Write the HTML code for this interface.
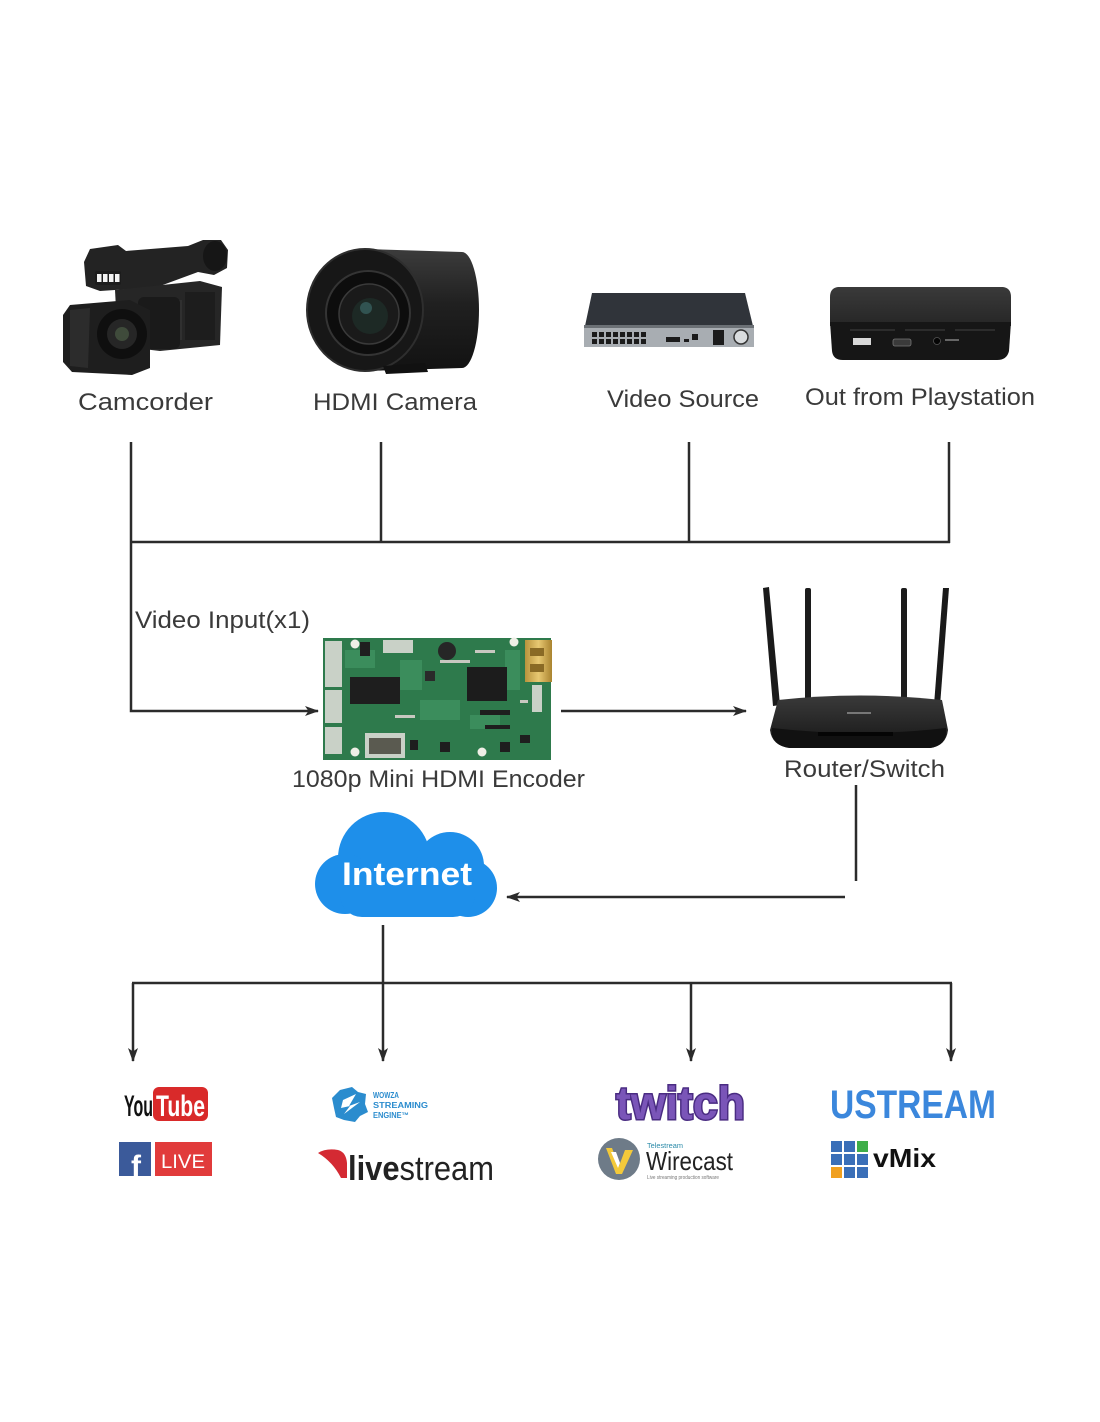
<!DOCTYPE html>
<html><head><meta charset="utf-8">
<style>
html,body{margin:0;padding:0;background:#fff;}
body{width:1100px;height:1422px;overflow:hidden;}
svg{display:block;}
</style></head>
<body>
<svg width="1100" height="1422" viewBox="0 0 1100 1422" xmlns="http://www.w3.org/2000/svg">
<defs>
  <linearGradient id="cyl" x1="0" y1="0" x2="0" y2="1">
    <stop offset="0" stop-color="#3c3c3c"/><stop offset="0.45" stop-color="#202020"/><stop offset="1" stop-color="#121212"/>
  </linearGradient>
  <linearGradient id="psTop" x1="0" y1="0" x2="0" y2="1">
    <stop offset="0" stop-color="#3a3a3a"/><stop offset="1" stop-color="#262626"/>
  </linearGradient>
  <linearGradient id="rtTop" x1="0" y1="0" x2="0" y2="1">
    <stop offset="0" stop-color="#3a3a3a"/><stop offset="1" stop-color="#161616"/>
  </linearGradient>
  <linearGradient id="gold" x1="0" y1="0" x2="1" y2="0">
    <stop offset="0" stop-color="#b8933c"/><stop offset="0.5" stop-color="#e8c872"/><stop offset="1" stop-color="#a9832f"/>
  </linearGradient>
  <marker id="ah" viewBox="0 0 14 10" refX="13" refY="5" markerWidth="14" markerHeight="10" markerUnits="userSpaceOnUse" orient="auto">
    <path d="M0 0 L14 5 L0 10 L3.5 5 Z" fill="#2b2b2b"/>
  </marker>
</defs>

<rect width="1100" height="1422" fill="#fff"/>

<!-- ================= CAMCORDER ================= -->
<g>
  <path d="M84 262 L90 249 L118 245 L126 251 L188 246 L203 240 L221 240 L228 250 L227 268 L214 275 L198 272 L160 286 L130 289 L100 291 L86 286 Z" fill="#232323"/>
  <ellipse cx="215" cy="256" rx="12" ry="15" fill="#161616"/>
  <rect x="95" y="271" width="26" height="14" rx="2" fill="#1c1c1c"/>
  <rect x="97" y="274" width="4.5" height="8" fill="#f2f2f2"/>
  <rect x="103" y="274" width="4.5" height="8" fill="#f2f2f2"/>
  <rect x="109" y="274" width="4.5" height="8" fill="#f2f2f2"/>
  <rect x="115" y="274" width="4.5" height="8" fill="#f2f2f2"/>
  <path d="M115 290 L200 281 L222 287 L220 345 L160 351 L118 346 Z" fill="#262626"/>
  <rect x="185" y="292" width="30" height="48" fill="#1d1d1d"/>
  <rect x="162" y="300" width="20" height="40" fill="#303030"/>
  <rect x="138" y="297" width="42" height="52" rx="6" fill="#1a1a1a"/>
  <path d="M70 305 L130 300 L150 310 L150 368 L132 375 L72 372 L63 362 L63 315 Z" fill="#1e1e1e"/>
  <path d="M70 310 L90 308 L88 368 L70 366 Z" fill="#2c2c2c"/>
  <circle cx="122" cy="334" r="25" fill="#0f0f0f"/>
  <circle cx="122" cy="334" r="15" fill="#262626"/>
  <circle cx="122" cy="334" r="7" fill="#3f4b3b"/>
</g>

<!-- ================= HDMI CAMERA ================= -->
<g>
  <path d="M365 249 L462 252 A17 58 0 0 1 462 368 L365 371 Z" fill="url(#cyl)"/>
  <ellipse cx="365" cy="310" rx="58" ry="61" fill="#171717" stroke="#2e2e2e" stroke-width="2"/>
  <circle cx="368" cy="313" r="42" fill="#0d0d0d" stroke="#343434" stroke-width="2"/>
  <circle cx="369" cy="314" r="30" fill="#1a1a1a" stroke="#3a3a3a" stroke-width="1.5"/>
  <circle cx="370" cy="316" r="18" fill="#1d2925"/>
  <circle cx="366" cy="308" r="6" fill="#3f7070" opacity="0.6"/>
  <path d="M383 366 L425 363 L428 372 L386 374 Z" fill="#111"/>
</g>

<!-- ================= NVR (Video Source) ================= -->
<g>
  <path d="M592 293 L745 293 L753 326 L585 326 Z" fill="#30343a"/>
  <rect x="584" y="325" width="170" height="22" fill="#a8adb2"/>
  <rect x="584" y="325" width="170" height="3" fill="#6b7075"/>
  <g fill="#1b1b1b">
    <rect x="592" y="332" width="5" height="5"/><rect x="599" y="332" width="5" height="5"/><rect x="606" y="332" width="5" height="5"/><rect x="613" y="332" width="5" height="5"/>
    <rect x="620" y="332" width="5" height="5"/><rect x="627" y="332" width="5" height="5"/><rect x="634" y="332" width="5" height="5"/><rect x="641" y="332" width="5" height="5"/>
    <rect x="592" y="339" width="5" height="5"/><rect x="599" y="339" width="5" height="5"/><rect x="606" y="339" width="5" height="5"/><rect x="613" y="339" width="5" height="5"/>
    <rect x="620" y="339" width="5" height="5"/><rect x="627" y="339" width="5" height="5"/><rect x="634" y="339" width="5" height="5"/><rect x="641" y="339" width="5" height="5"/>
    <rect x="666" y="337" width="14" height="5"/><rect x="684" y="339" width="5" height="3"/><rect x="692" y="334" width="6" height="6"/>
    <rect x="713" y="330" width="11" height="15"/>
  </g>
  <circle cx="741" cy="337" r="7" fill="#d9dcde" stroke="#333" stroke-width="1.5"/>
</g>

<!-- ================= PLAYSTATION BOX ================= -->
<g>
  <path d="M838 287 L1003 287 Q1011 288 1011 297 L1011 326 L830 326 L830 297 Q830 288 838 287 Z" fill="url(#psTop)"/>
  <path d="M830 322 L1011 322 L1009 351 Q1007 360 997 360 L843 360 Q833 360 832 351 Z" fill="#161616"/>
  <rect x="850" y="329" width="45" height="2" fill="#2c2c2c"/>
  <rect x="905" y="329" width="40" height="2" fill="#2c2c2c"/>
  <rect x="955" y="329" width="40" height="2" fill="#2c2c2c"/>
  <rect x="853" y="338" width="18" height="7" fill="#d8d8d8"/>
  <rect x="893" y="339" width="18" height="7" rx="2" fill="#3a3a3a" stroke="#777" stroke-width="0.8"/>
  <circle cx="937" cy="341" r="3.5" fill="#050505" stroke="#555" stroke-width="0.8"/>
  <rect x="945" y="339" width="14" height="2" fill="#666"/>
</g>

<!-- ================= TOP LABELS ================= -->
<g font-family="'Liberation Sans', sans-serif" font-size="24" fill="#3a3a3a">
  <text x="78" y="410" textLength="135" lengthAdjust="spacingAndGlyphs">Camcorder</text>
  <text x="313" y="410" textLength="164" lengthAdjust="spacingAndGlyphs">HDMI Camera</text>
  <text x="607" y="407" textLength="152" lengthAdjust="spacingAndGlyphs">Video Source</text>
  <text x="805" y="405" textLength="230" lengthAdjust="spacingAndGlyphs">Out from Playstation</text>
  <text x="135" y="628" textLength="175" lengthAdjust="spacingAndGlyphs">Video Input(x1)</text>
  <text x="292" y="787" textLength="293" lengthAdjust="spacingAndGlyphs">1080p Mini HDMI Encoder</text>
  <text x="784" y="777" textLength="161" lengthAdjust="spacingAndGlyphs">Router/Switch</text>
</g>

<!-- ================= CONNECTORS ================= -->
<g stroke="#2b2b2b" stroke-width="2.5" fill="none">
  <line x1="131" y1="442" x2="131" y2="542"/>
  <line x1="381" y1="442" x2="381" y2="542"/>
  <line x1="689" y1="442" x2="689" y2="542"/>
  <line x1="949" y1="442" x2="949" y2="543"/>
  <line x1="130" y1="542" x2="950" y2="542"/>
  <path d="M131 542 V711 H318" marker-end="url(#ah)"/>
  <line x1="561" y1="711" x2="746" y2="711" marker-end="url(#ah)"/>
  <line x1="856" y1="785" x2="856" y2="881"/>
  <line x1="845" y1="897" x2="507" y2="897" marker-end="url(#ah)"/>
  <line x1="383" y1="925" x2="383" y2="1061" marker-end="url(#ah)"/>
  <line x1="132" y1="983" x2="952" y2="983"/>
  <line x1="133" y1="983" x2="133" y2="1061" marker-end="url(#ah)"/>
  <line x1="691" y1="983" x2="691" y2="1061" marker-end="url(#ah)"/>
  <line x1="951" y1="983" x2="951" y2="1061" marker-end="url(#ah)"/>
</g>

<!-- ================= ENCODER BOARD ================= -->
<g>
  <rect x="323" y="638" width="228" height="122" fill="#2e7a4c"/>
  <g fill="#3f9260" opacity="0.8">
    <rect x="345" y="650" width="30" height="18"/><rect x="420" y="700" width="40" height="20"/>
    <rect x="470" y="715" width="30" height="14"/><rect x="400" y="660" width="22" height="30"/>
    <rect x="505" y="650" width="15" height="40"/>
  </g>
  <g fill="#c9d1c7">
    <rect x="325" y="641" width="17" height="46"/>
    <rect x="325" y="690" width="17" height="33"/>
    <rect x="325" y="727" width="17" height="27"/>
    <rect x="383" y="640" width="30" height="13"/>
    <rect x="365" y="733" width="40" height="25"/>
    <rect x="532" y="685" width="10" height="27"/>
  </g>
  <rect x="369" y="738" width="32" height="16" fill="#5a5a50"/>
  <rect x="350" y="677" width="50" height="27" fill="#1e1e1e"/>
  <rect x="467" y="667" width="40" height="34" fill="#1c1c1c"/>
  <circle cx="447" cy="651" r="9" fill="#262626"/>
  <rect x="425" y="671" width="10" height="10" fill="#2a2a2a"/>
  <rect x="360" y="642" width="10" height="14" fill="#1f1f1f"/>
  <rect x="525" y="640" width="27" height="42" fill="url(#gold)"/>
  <rect x="530" y="648" width="14" height="8" fill="#8a6a25"/>
  <rect x="530" y="664" width="14" height="8" fill="#8a6a25"/>
  <g fill="#efefe6">
    <circle cx="355" cy="644" r="4.5"/><circle cx="514" cy="642" r="4.5"/>
    <circle cx="355" cy="752" r="4.5"/><circle cx="482" cy="752" r="4.5"/>
  </g>
  <g fill="#1e1e1e">
    <rect x="410" y="740" width="8" height="10"/><rect x="440" y="742" width="10" height="10"/>
    <rect x="500" y="742" width="10" height="10"/><rect x="520" y="735" width="10" height="8"/>
    <rect x="480" y="710" width="30" height="5"/><rect x="485" y="725" width="25" height="4"/>
  </g>
  <g fill="#c8c8c0">
    <rect x="440" y="660" width="30" height="3"/><rect x="475" y="650" width="20" height="3"/>
    <rect x="395" y="715" width="20" height="3"/><rect x="520" y="700" width="8" height="3"/>
  </g>
</g>

<!-- ================= ROUTER ================= -->
<g>
  <path d="M763 588 L769 587 L780 705 L773 706 Z" fill="#1a1a1a"/>
  <rect x="805" y="588" width="6" height="114" rx="2" fill="#1c1c1c"/>
  <rect x="901" y="588" width="6" height="114" rx="2" fill="#1c1c1c"/>
  <path d="M943 588 L949 588 L940 706 L934 705 Z" fill="#1a1a1a"/>
  <path d="M778 700 Q860 691 942 700 L948 730 Q946 746 930 748 L790 748 Q772 746 770 730 Z" fill="url(#rtTop)"/>
  <path d="M772 728 Q860 738 946 728 L946 734 Q944 746 930 748 L790 748 Q774 746 772 734 Z" fill="#111"/>
  <rect x="818" y="732" width="75" height="4" fill="#050505"/>
  <rect x="847" y="712" width="24" height="2" fill="#777"/>
</g>

<!-- ================= INTERNET CLOUD ================= -->
<g fill="#1e8fea">
  <circle cx="384" cy="858" r="46"/>
  <circle cx="450" cy="866" r="34"/>
  <circle cx="345" cy="884" r="30"/>
  <circle cx="468" cy="888" r="29"/>
  <rect x="340" y="865" width="135" height="52" rx="22"/>
</g>
<text x="342" y="885" font-family="'Liberation Sans', sans-serif" font-weight="bold" font-size="32" fill="#fff" textLength="130" lengthAdjust="spacingAndGlyphs">Internet</text>

<!-- ================= LOGOS ================= -->
<!-- YouTube -->
<text x="124" y="1116" font-family="'Liberation Sans', sans-serif" font-weight="bold" font-size="30" fill="#111" textLength="29" lengthAdjust="spacingAndGlyphs">You</text>
<rect x="153" y="1087" width="55" height="34" rx="6" fill="#d92a2a"/>
<text x="156" y="1116" font-family="'Liberation Sans', sans-serif" font-weight="bold" font-size="30" fill="#fff" textLength="49" lengthAdjust="spacingAndGlyphs">Tube</text>
<!-- FB live -->
<rect x="119" y="1142" width="32" height="34" fill="#3b5a9a"/>
<text x="131" y="1176" font-family="'Liberation Sans', sans-serif" font-weight="bold" font-size="30" fill="#fff">f</text>
<rect x="155" y="1142" width="57" height="34" fill="#e13b3b"/>
<text x="161" y="1168" font-family="'Liberation Sans', sans-serif" font-size="19" fill="#fff" textLength="44" lengthAdjust="spacingAndGlyphs">LIVE</text>

<!-- Wowza -->
<path d="M340 1090 L352 1087 L358 1092 L366 1094 L365 1104 L368 1112 L360 1116 L355 1122 L344 1120 L336 1117 L334 1108 L332 1098 Z" fill="#2b8cce"/>
<path d="M343 1100 L356 1094 L349 1106 L360 1102 L344 1114 L350 1106 L341 1108 Z" fill="#fff"/>
<g font-family="'Liberation Sans', sans-serif" font-weight="bold" font-size="8" fill="#2b8cce">
  <text x="373" y="1098" textLength="26" lengthAdjust="spacingAndGlyphs">WOWZA</text>
  <text x="373" y="1108" textLength="55" lengthAdjust="spacingAndGlyphs">STREAMING</text>
  <text x="373" y="1118" textLength="36" lengthAdjust="spacingAndGlyphs">ENGINE™</text>
</g>
<!-- livestream -->
<path d="M318 1153 Q326 1148 338 1150 Q346 1152 347 1163 L347 1178 L341 1178 Q333 1162 318 1153 Z" fill="#d42a33"/>
<text x="348" y="1180" font-family="'Liberation Sans', sans-serif" font-size="34" fill="#222" textLength="146" lengthAdjust="spacingAndGlyphs"><tspan font-weight="bold">live</tspan>stream</text>

<!-- twitch -->
<text x="616" y="1119" font-family="'Liberation Sans', sans-serif" font-weight="bold" font-size="46" fill="#7a55b8" stroke="#4a2c82" stroke-width="3" paint-order="stroke" textLength="129" lengthAdjust="spacingAndGlyphs">twitch</text>
<!-- Wirecast -->
<circle cx="619" cy="1159" r="21" fill="#6e7b88"/>
<path d="M606 1148 L612 1148 L619 1166 L625 1150 L633 1150 L622 1174 L616 1174 Z" fill="#f3c93a"/>
<path d="M611 1152 L616 1152 L620 1163 L618 1168 Z" fill="#fff"/>
<text x="647" y="1148" font-family="'Liberation Sans', sans-serif" font-size="7" fill="#2a8aa8" textLength="36" lengthAdjust="spacingAndGlyphs">Telestream</text>
<text x="646" y="1170" font-family="'Liberation Sans', sans-serif" font-size="26" fill="#222" textLength="87" lengthAdjust="spacingAndGlyphs">Wirecast</text>
<text x="647" y="1179" font-family="'Liberation Sans', sans-serif" font-size="5" fill="#777" textLength="72" lengthAdjust="spacingAndGlyphs">Live streaming production software</text>

<!-- USTREAM -->
<text x="830" y="1118" font-family="'Liberation Sans', sans-serif" font-weight="bold" font-size="40" fill="#3b87dc" textLength="166" lengthAdjust="spacingAndGlyphs">USTREAM</text>
<!-- vMix -->
<g>
  <rect x="831" y="1141" width="11" height="11" fill="#3a6fb8"/><rect x="844" y="1141" width="11" height="11" fill="#3a6fb8"/><rect x="857" y="1141" width="11" height="11" fill="#3fae49"/>
  <rect x="831" y="1154" width="11" height="11" fill="#3a6fb8"/><rect x="844" y="1154" width="11" height="11" fill="#3a6fb8"/><rect x="857" y="1154" width="11" height="11" fill="#3a6fb8"/>
  <rect x="831" y="1167" width="11" height="11" fill="#f0a020"/><rect x="844" y="1167" width="11" height="11" fill="#3a6fb8"/><rect x="857" y="1167" width="11" height="11" fill="#3a6fb8"/>
</g>
<text x="873" y="1167" font-family="'Liberation Sans', sans-serif" font-weight="bold" font-size="26" fill="#111" textLength="63" lengthAdjust="spacingAndGlyphs">vMix</text>

</svg>
</body></html>
